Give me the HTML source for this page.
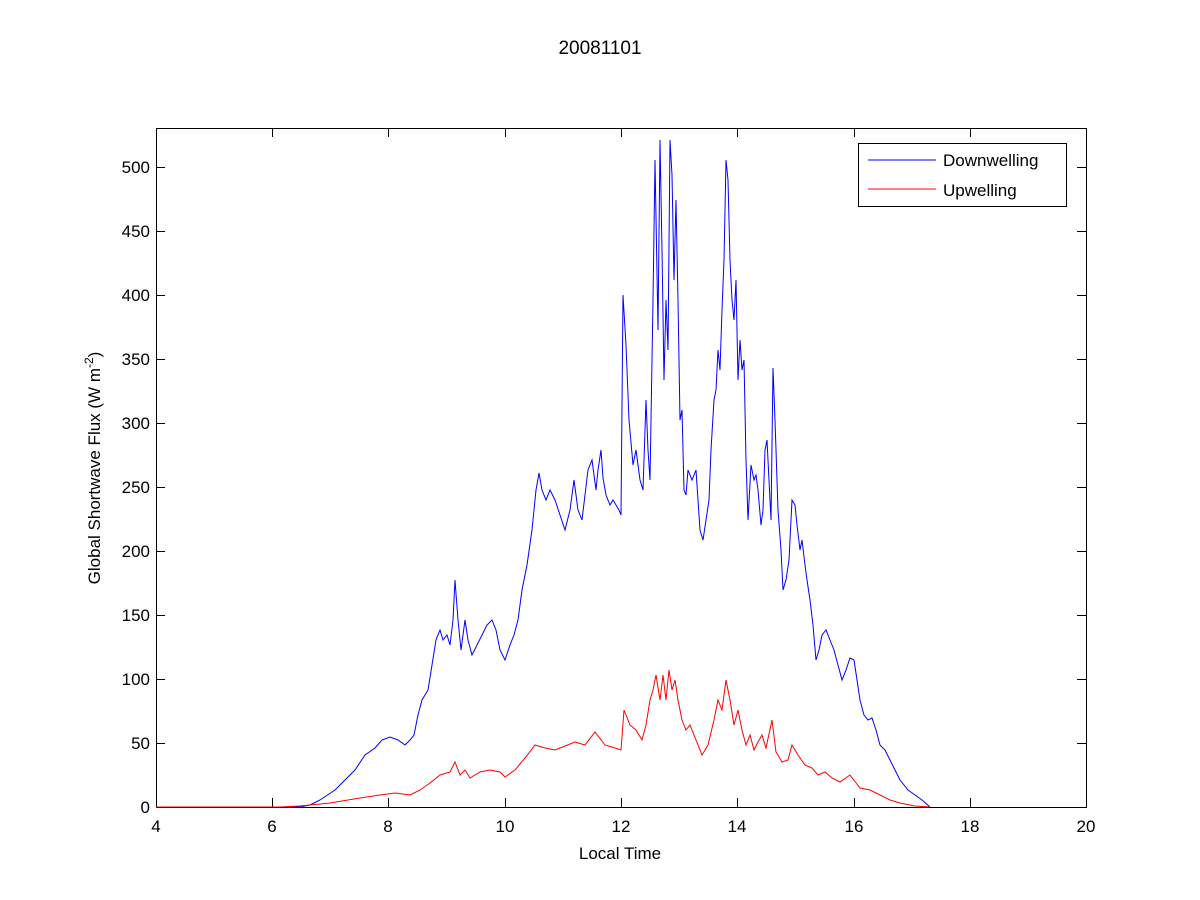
<!DOCTYPE html>
<html><head><meta charset="utf-8"><style>
html,body{margin:0;padding:0;background:#fff;}
svg{display:block;font-family:"Liberation Sans",Arial,sans-serif;}
</style></head><body>
<svg width="1200" height="900" viewBox="0 0 1200 900" xmlns="http://www.w3.org/2000/svg">
<rect width="1200" height="900" fill="#fff"/>
<text x="600" y="54" font-size="19" text-anchor="middle">20081101</text>
<g stroke="#000" stroke-width="1" fill="none" shape-rendering="crispEdges">
<rect x="156.5" y="128.5" width="930" height="679"/>
<!-- x ticks -->
<path d="M156.5 807v-9M156.5 128v9M272.5 807v-9M272.5 128v9M388.5 807v-9M388.5 128v9M505.5 807v-9M505.5 128v9M621.5 807v-9M621.5 128v9M737.5 807v-9M737.5 128v9M854.5 807v-9M854.5 128v9M970.5 807v-9M970.5 128v9M1086.5 807v-9M1086.5 128v9"/>
<!-- y ticks -->
<path d="M156 807.5h9M1086 807.5h-9M156 743.5h9M1086 743.5h-9M156 679.5h9M1086 679.5h-9M156 615.5h9M1086 615.5h-9M156 551.5h9M1086 551.5h-9M156 487.5h9M1086 487.5h-9M156 423.5h9M1086 423.5h-9M156 359.5h9M1086 359.5h-9M156 295.5h9M1086 295.5h-9M156 231.5h9M1086 231.5h-9M156 167.5h9M1086 167.5h-9"/>
</g>
<g font-size="17" text-anchor="middle">
<text x="156" y="832">4</text><text x="272" y="832">6</text><text x="388" y="832">8</text><text x="505" y="832">10</text><text x="621" y="832">12</text><text x="737" y="832">14</text><text x="854" y="832">16</text><text x="970" y="832">18</text><text x="1086" y="832">20</text>
</g>
<g font-size="17" text-anchor="end">
<text x="150" y="813">0</text><text x="150" y="749">50</text><text x="150" y="685">100</text><text x="150" y="621">150</text><text x="150" y="557">200</text><text x="150" y="493">250</text><text x="150" y="429">300</text><text x="150" y="365">350</text><text x="150" y="301">400</text><text x="150" y="237">450</text><text x="150" y="173">500</text>
</g>
<text x="620" y="859" font-size="17" text-anchor="middle">Local Time</text>
<text transform="translate(100,468) rotate(-90)" font-size="17" text-anchor="middle">Global Shortwave Flux (W m<tspan font-size="12" dy="-7">-2</tspan><tspan dy="7">)</tspan></text>
<polyline fill="none" stroke="#0000ff" stroke-width="1" points="156,807 300,807 310,805 320,800 335,790 345,780 355,770 365,755 375,748 382,740 390,737 398,740 405,745 410,740 414,735 418,715 422,700 428,690 432,665 436,640 440,630 443,640 447,635 450,645 453,620 455,580 458,620 461,650 465,620 468,640 472,655 477,645 482,635 487,625 492,620 496,630 500,650 505,660 510,645 514,635 518,620 522,590 527,565 532,530 536,490 539,473 542,490 546,500 550,490 555,500 560,515 565,530 570,510 574,480 578,510 582,520 585,495 588,470 592,460 594,475 596,490 598,470 601,450 603,478 606,495 610,505 613,500 616,505 619,510 621,515 623,295 626,345 629,420 633,465 636,450 640,480 643,490 646,400 648,450 650,480 653,300 655,160 658,330 660,140 662,250 664,380 666,300 668,350 670,140 672,175 674,280 676,200 678,300 680,420 682,410 684,490 686,495 688,470 692,480 696,470 700,530 703,540 706,520 709,500 711,450 714,400 716,390 718,350 720,370 722,310 724,260 726,160 728,180 730,260 732,300 734,320 736,280 738,380 740,340 742,370 744,360 746,460 748,520 751,465 754,480 756,475 758,490 761,525 763,510 765,450 767,440 769,480 771,520 773,368 775,420 778,510 781,550 783,590 786,580 789,560 792,500 795,505 797,525 800,550 802,540 805,565 807,580 810,600 813,625 816,660 819,650 822,635 826,630 830,640 834,650 838,665 842,680 846,670 850,658 854,660 857,680 860,700 864,715 868,720 872,718 876,730 880,745 885,750 890,760 895,770 900,780 908,790 915,795 922,800 930,807"/>
<polyline fill="none" stroke="#ff0000" stroke-width="1" points="156,807 280,807 300,806 330,803 360,798 380,795 395,793 410,795 420,790 430,783 440,775 450,772 455,762 460,775 465,770 470,778 480,772 490,770 500,772 505,777 515,770 525,758 535,745 545,748 555,750 565,746 575,742 585,745 595,732 605,745 615,748 621,750 624,710 630,725 636,730 642,740 646,725 650,700 653,690 656,675 660,700 663,675 666,700 669,670 672,690 675,680 678,700 682,720 686,730 690,725 696,740 702,755 708,745 714,720 718,700 722,710 726,680 730,700 734,725 738,710 742,730 746,745 750,735 754,750 758,742 762,735 766,748 772,720 776,752 782,762 788,760 792,745 798,755 805,765 812,768 818,775 825,772 832,778 840,782 850,775 860,788 870,790 880,795 890,800 900,803 915,806 930,807"/>
<rect x="858.5" y="143.5" width="208" height="63" fill="#fff" stroke="#000" stroke-width="1" shape-rendering="crispEdges"/>
<line x1="868" y1="160" x2="936" y2="160" stroke="#0000ff"/>
<line x1="868" y1="189" x2="936" y2="189" stroke="#ff0000"/>
<text x="943" y="166" font-size="17">Downwelling</text>
<text x="943" y="196" font-size="17">Upwelling</text>
</svg>
</body></html>
